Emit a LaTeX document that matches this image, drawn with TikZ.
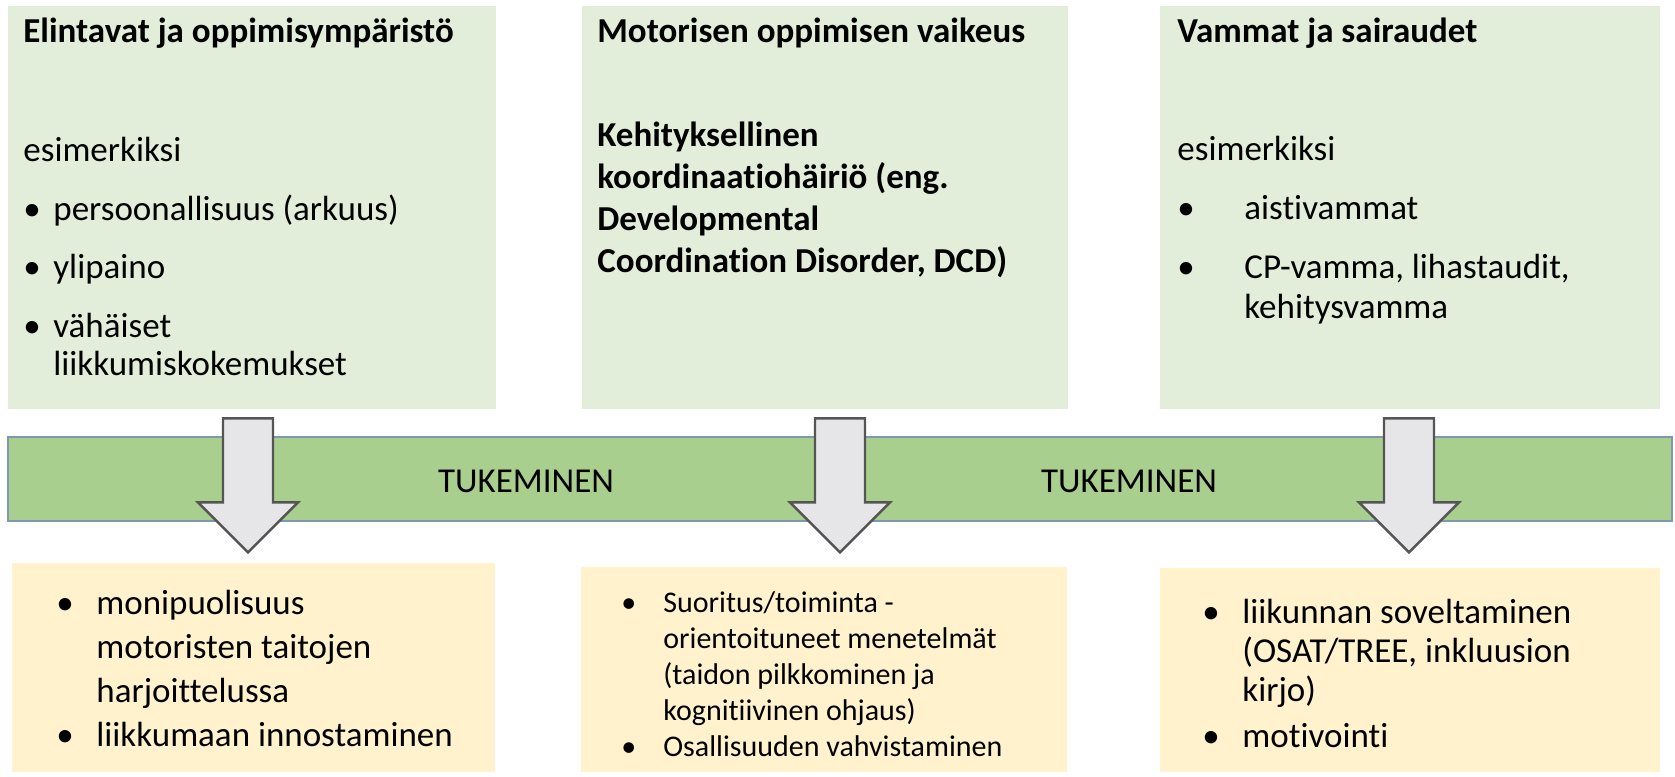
\documentclass[tikz,border=0pt]{standalone}
\usepackage{fontspec}
\setmainfont{Carlito}[Ligatures=NoCommon]
\usetikzlibrary{positioning, fit, calc}
\definecolor{BoxGreen}{HTML}{E2EEDA}
\definecolor{BandGreen}{HTML}{A9CF8E}
\definecolor{BandEdge}{HTML}{7F98B0}
\definecolor{BoxYellow}{HTML}{FFF2CC}
\definecolor{ArrowFill}{HTML}{E6E6E8}
\definecolor{ArrowEdge}{HTML}{555555}
% bullet with its gap
\newcommand{\bul}[1][15pt]{\makebox[#1][l]{\textbullet}}
\tikzset{
    % boxes
    topbox/.style={
        rectangle,
        fill=BoxGreen,
        inner sep=0pt
    },
    bottombox/.style={
        rectangle,
        fill=BoxYellow,
        inner sep=0pt
    },
    band/.style={
        rectangle,
        fill=BandGreen,
        draw=BandEdge,
        line width=0.8pt,
        inner sep=0pt
    },
    % texts (placed at the baseline of their last line)
    heading/.style={
        anchor=base west,
        inner sep=0pt,
        align=left,
        font=\bfseries\fontsize{17.5}{21}\selectfont
    },
    bodytext/.style={
        anchor=base west,
        inner sep=0pt,
        align=left,
        font=\fontsize{17.5}{19}\selectfont
    },
    bandlabel/.style={
        inner sep=0pt,
        font=\fontsize{17.5}{20}\selectfont
    },
    block arrow/.style={
        fill=ArrowFill,
        draw=ArrowEdge,
        line width=1.2pt,
        line join=miter
    }
}
\begin{document}
\begin{tikzpicture}[x=0.5pt, y=-0.5pt]
    \useasboundingbox (0,0) rectangle (1675,776);

    % upper row
    \node[topbox, fit={(8,6) (496,409)}] (top1) {};
    \node[topbox, fit={(582,6) (1068,409)}] (top2) {};
    \node[topbox, fit={(1160,6) (1660,409)}] (top3) {};

    \node[heading] (head1) at (23,42) {Elintavat ja oppimisympäristö};
    \node[bodytext] (body1) at (23,375) {esimerkiksi\\[10.5pt]
        \bul persoonallisuus (arkuus)\\[10pt]
        \bul ylipaino\\[10.5pt]
        \bul vähäiset\\
        \hspace*{15pt}liikkumiskokemukset};

    \node[heading] (head2) at (597,42) {Motorisen oppimisen vaikeus};
    \node[heading] (body2) at (597,272) {Kehityksellinen\\
        koordinaatiohäiriö (eng.\\
        Developmental\\
        Coordination Disorder, DCD)};

    \node[heading] (head3) at (1177,42) {Vammat ja sairaudet};
    \node[bodytext] (body3) at (1177,318) {esimerkiksi\\[10.5pt]
        \bul[33.5pt]aistivammat\\[10.5pt]
        \bul[33.5pt]CP-vamma, lihastaudit,\\[1pt]
        \hspace*{33.5pt}kehitysvamma};

    % support band
    \node[band, fit={(8,437) (1672,521)}] (band) {};
    \node[bandlabel] (tuk1) at (526,481) {TUKEMINEN};
    \node[bandlabel] (tuk2) at (1129,481) {TUKEMINEN};

    % lower row
    \node[bottombox, fit={(12,563) (495,772)}] (bot1) {};
    \node[bottombox, fit={(581,567) (1067,772)}] (bot2) {};
    \node[bottombox, fit={(1160,568) (1660,772)}] (bot3) {};

    \node[bodytext, font=\fontsize{17.5}{22}\selectfont] (low1) at (56,746) {\bul[20pt]monipuolisuus\\
        \hspace*{20pt}motoristen taitojen\\
        \hspace*{20pt}harjoittelussa\\
        \bul[20pt]liikkumaan innostaminen};
    \node[bodytext, font=\fontsize{15}{18}\selectfont] (low2) at (621,756) {\bul[21pt]Suoritus/toiminta -\\
        \hspace*{21pt}orientoituneet menetelmät\\
        \hspace*{21pt}(taidon pilkkominen ja\\
        \hspace*{21pt}kognitiivinen ohjaus)\\
        \bul[21pt]Osallisuuden vahvistaminen};
    \node[bodytext, font=\fontsize{17.5}{19.5}\selectfont] (low3) at (1202,747) {\bul[20pt]liikunnan soveltaminen\\
        \hspace*{20pt}(OSAT/TREE, inkluusion\\
        \hspace*{20pt}kirjo)\\[3.5pt]
        \bul[20pt]motivointi};

    % block arrows through the band
    \foreach \src/\dx in {top1/-4, top2/15, top3/-1}
        \draw[block arrow] ($(\src.south)+(\dx-25,9)$) -- ++(50,0) -- ++(0,84)
            -- ++(25,0) -- ++(-50,50) -- ++(-50,-50) -- ++(25,0) -- cycle;
\end{tikzpicture}
\end{document}
